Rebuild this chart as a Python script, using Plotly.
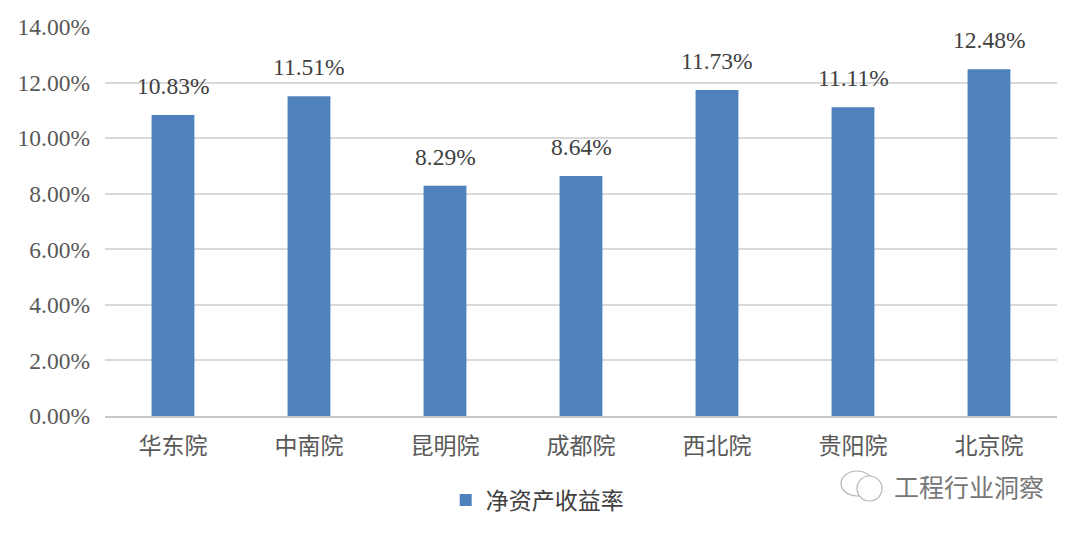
import plotly.graph_objects as go

categories = ["华东院", "中南院", "昆明院", "成都院", "西北院", "贵阳院", "北京院"]
values = [10.83, 11.51, 8.29, 8.64, 11.73, 11.11, 12.48]
labels = ["10.83%", "11.51%", "8.29%", "8.64%", "11.73%", "11.11%", "12.48%"]
tick_vals = [0, 2, 4, 6, 8, 10, 12, 14]
tick_text = ["0.00%", "2.00%", "4.00%", "6.00%", "8.00%", "10.00%", "12.00%", "14.00%"]
series_name = "净资产收益率"
watermark = "工程行业洞察"

SERIF = "Liberation Serif, 'Noto Sans CJK SC', serif"
CJK = "'Noto Sans CJK SC', sans-serif"
L, T, PW, PH = 97, 19, 952, 389


def px(x):
    return (x - 8 - L) / PW


def py(y):
    return 1 - (y - 8 - T) / PH


fig = go.Figure()
fig.add_bar(
    x=categories, y=values, name=series_name, width=0.315,
    marker=dict(color="#4f81bd", line_width=0),
    showlegend=True,
)
for c, v, t in zip(categories, values, labels):
    fig.add_annotation(
        x=c, y=v, text=t, showarrow=False, yanchor="middle", yshift=29,
        font=dict(family=SERIF, size=23.5, color="#404040"),
    )
fig.update_layout(
    width=1080, height=533, autosize=False,
    margin=dict(l=L, r=1080 - L - PW, t=T, b=533 - T - PH, autoexpand=False),
    paper_bgcolor="#ffffff", plot_bgcolor="#ffffff",
    legend=dict(orientation="h", x=0.454, xref="paper", xanchor="center", y=py(500), yanchor="middle",
                font=dict(family=CJK, size=23, color="#404040")),
)
fig.update_xaxes(
    automargin=False,
    tickfont=dict(family=CJK, size=23, color="#595959"),
    showline=True, linecolor="#c8c8c8", linewidth=1.5, ticks="", showgrid=False, fixedrange=True,
    ticklabelstandoff=9,
)
fig.update_yaxes(
    automargin=False,
    range=[0, 14], tickvals=tick_vals, ticktext=tick_text,
    tickfont=dict(family=SERIF, size=23.5, color="#595959"),
    showgrid=True, gridcolor="#d9d9d9", gridwidth=1.5, zeroline=False, ticks="", fixedrange=True,
    ticklabelstandoff=14,
)
fig.add_annotation(
    text=watermark, xref="paper", yref="paper", x=px(1046), y=py(486), xanchor="right", yanchor="middle",
    showarrow=False, font=dict(family=CJK, size=25, color="#777777"),
)
# WeChat-style watermark icon: two outlined speech bubbles
for x0, y0, x1, y1 in [(841, 471, 873, 496), (857, 476, 882, 501)]:
    fig.add_shape(
        type="circle", xref="paper", yref="paper",
        x0=px(x0), x1=px(x1), y0=py(y0), y1=py(y1),
        line=dict(color="#b5b5b5", width=1.2), fillcolor="#ffffff", layer="above",
    )
fig.write_html("out.html")
